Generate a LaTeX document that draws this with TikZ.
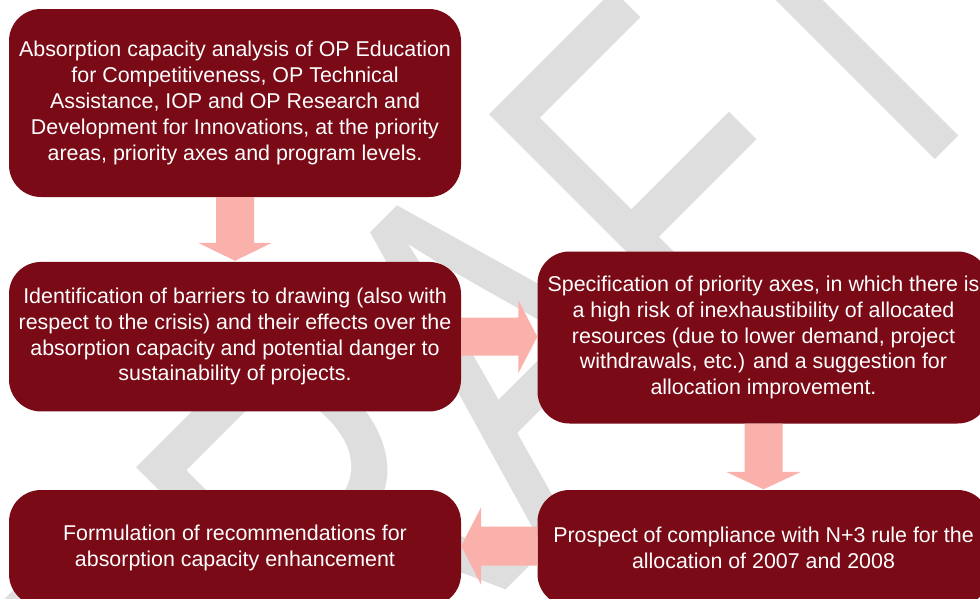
\documentclass[tikz,border=0pt]{standalone}
\usepackage{fontspec}
\setmainfont{Liberation Sans}
\newfontfamily\wmfont[Kerning=Off]{Liberation Sans}
\usetikzlibrary{calc}
\definecolor{boxred}{RGB}{121,10,22}
\definecolor{arrowpink}{RGB}{250,177,172}
\definecolor{wmgray}{RGB}{222,222,222}
\begin{document}
\begin{tikzpicture}[x=1pt,y=-1pt,
  stepbox/.style={rectangle, rounded corners=32pt, fill=boxred, text=white,
    align=center, inner sep=0pt, minimum width=452pt,
    font=\fontsize{21.4}{25.8}\selectfont},
  blockarrow/.style={fill=arrowpink},
  watermark/.style={rotate=45, anchor=base west, inner sep=0pt, outer sep=0pt, text=wmgray}]
\useasboundingbox (0,0) rectangle (980,598);
\fill[white] (0,0) rectangle (980,598);

% background watermark
\begin{scope}
  \clip (0,0) rectangle (980,598);
  \node[watermark] (wm) at (177.4,918)
    {\wmfont\fontsize{486}{486}\selectfont\scalebox{0.74}[1.04]{DRAFT}};
\end{scope}

% process steps
\node[stepbox, minimum height=188pt] (b1) at (235,103)
  {Absorption capacity analysis of OP Education\\for Competitiveness, OP Technical\\Assistance, IOP and OP Research and\\Development for Innovations, at the priority\\areas, priority axes and program levels.};
\node[stepbox, minimum height=149.5pt] (b2) at (235,336.7)
  {Identification of barriers to drawing (also with\\respect to the crisis) and their effects over the\\absorption capacity and potential danger to\\sustainability of projects.};
\node[stepbox, minimum height=172pt] (b3) at (763.5,337.5)
  {Specification of priority axes, in which there is\\a high risk of inexhaustibility of allocated\\resources (due to lower demand, project\\withdrawals, etc.) and a suggestion for\\allocation improvement.};
\node[stepbox, minimum height=116pt] (b4) at (763.5,548)
  {Prospect of compliance with N+3 rule for the\\allocation of 2007 and 2008};
\node[stepbox, minimum height=116pt] (b5) at (235,548)
  {Formulation of recommendations for\\absorption capacity enhancement};

% block arrows between the steps
\fill[blockarrow] ($(b1.south)+(-19,0)$) -- ($(b2.north)+(-19,-19)$)
  -- ($(b2.north)+(-37,-19)$) -- ($(b2.north)+(0,-1)$)
  -- ($(b2.north)+(37,-19)$) -- ($(b2.north)+(19,-19)$)
  -- ($(b1.south)+(19,0)$) -- cycle;

\coordinate (t23) at (b3.west |- b2.east);
\fill[blockarrow] ($(b2.east)+(0,-19)$) -- ($(t23)+(-19,-19)$)
  -- ($(t23)+(-19,-36.5)$) -- (t23)
  -- ($(t23)+(-19,36.5)$) -- ($(t23)+(-19,19)$)
  -- ($(b2.east)+(0,19)$) -- cycle;

\fill[blockarrow] ($(b3.south)+(-19,0)$) -- ($(b4.north)+(-19,-18)$)
  -- ($(b4.north)+(-37.5,-18)$) -- ($(b4.north)+(0,-0.5)$)
  -- ($(b4.north)+(37.5,-18)$) -- ($(b4.north)+(19,-18)$)
  -- ($(b3.south)+(19,0)$) -- cycle;

\coordinate (s45) at ($(b4.west)+(0,-2)$);
\coordinate (t45) at (b5.east |- s45);
\fill[blockarrow] ($(s45)+(0,-19.5)$) -- ($(t45)+(20,-19.5)$)
  -- ($(t45)+(20,-39)$) -- (t45)
  -- ($(t45)+(20,39)$) -- ($(t45)+(20,19.5)$)
  -- ($(s45)+(0,19.5)$) -- cycle;
\end{tikzpicture}
\end{document}
